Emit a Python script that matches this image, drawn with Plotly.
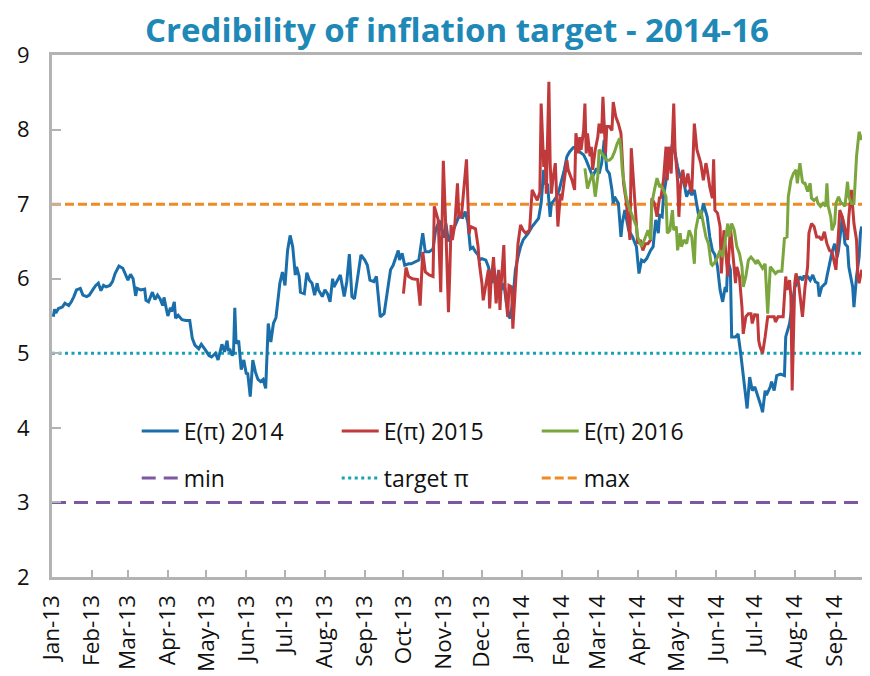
import plotly.graph_objects as go

# ---------------- data ----------------
e2014_dates = [
    "2013-01-02","2013-01-03","2013-01-04","2013-01-06","2013-01-09","2013-01-11","2013-01-14","2013-01-16",
    "2013-01-18","2013-01-20","2013-01-23","2013-01-25","2013-01-28","2013-01-30","2013-02-02","2013-02-04",
    "2013-02-06","2013-02-08","2013-02-10","2013-02-12","2013-02-15","2013-02-17","2013-02-19","2013-02-22",
    "2013-02-25","2013-02-27","2013-03-01","2013-03-03","2013-03-05","2013-03-07","2013-03-08","2013-03-11",
    "2013-03-14","2013-03-15","2013-03-17","2013-03-20","2013-03-22","2013-03-24","2013-03-26","2013-03-28",
    "2013-03-29","2013-03-31","2013-04-01","2013-04-03","2013-04-04","2013-04-06","2013-04-07","2013-04-09",
    "2013-04-12","2013-04-15","2013-04-18","2013-04-20","2013-04-22","2013-04-25","2013-04-27","2013-04-30",
    "2013-05-03","2013-05-05","2013-05-08","2013-05-10","2013-05-12","2013-05-13","2013-05-15","2013-05-17",
    "2013-05-18","2013-05-19","2013-05-21","2013-05-22","2013-05-23","2013-05-24","2013-05-26","2013-05-28",
    "2013-05-30","2013-06-01","2013-06-02","2013-06-04","2013-06-06","2013-06-08","2013-06-10","2013-06-12",
    "2013-06-14","2013-06-15","2013-06-16","2013-06-18","2013-06-20","2013-06-22","2013-06-24","2013-06-27",
    "2013-06-29","2013-07-01","2013-07-03","2013-07-05","2013-07-07","2013-07-09","2013-07-10","2013-07-12",
    "2013-07-13","2013-07-16","2013-07-18","2013-07-20","2013-07-22","2013-07-24","2013-07-26","2013-07-27",
    "2013-07-30","2013-08-01","2013-08-03","2013-08-05","2013-08-07","2013-08-08","2013-08-11","2013-08-13",
    "2013-08-16","2013-08-18","2013-08-20","2013-08-22","2013-08-24","2013-08-27","2013-08-29","2013-09-01",
    "2013-09-03","2013-09-05","2013-09-08","2013-09-10","2013-09-12","2013-09-13","2013-09-16","2013-09-18",
    "2013-09-19","2013-09-21","2013-09-23","2013-09-25","2013-09-27","2013-09-28","2013-09-30","2013-10-02",
    "2013-10-05","2013-10-07","2013-10-10","2013-10-13","2013-10-16","2013-10-18","2013-10-21","2013-10-24",
    "2013-10-26","2013-10-29","2013-11-01","2013-11-03","2013-11-05","2013-11-08","2013-11-11","2013-11-13",
    "2013-11-16","2013-11-18","2013-11-20","2013-11-22","2013-11-24","2013-11-26","2013-11-28","2013-11-29",
    "2013-12-01","2013-12-04","2013-12-06","2013-12-09","2013-12-10","2013-12-12","2013-12-14","2013-12-16",
    "2013-12-18","2013-12-20","2013-12-22","2013-12-23","2013-12-25","2013-12-26","2013-12-27","2013-12-29",
    "2013-12-31","2014-01-02","2014-01-04","2014-01-06","2014-01-09","2014-01-11","2014-01-14","2014-01-16",
    "2014-01-18","2014-01-19","2014-01-21","2014-01-23","2014-01-24","2014-01-26","2014-01-28","2014-01-30",
    "2014-02-01","2014-02-03","2014-02-05","2014-02-07","2014-02-10","2014-02-12","2014-02-15","2014-02-18",
    "2014-02-20","2014-02-23","2014-02-25","2014-02-28","2014-03-02","2014-03-04","2014-03-06","2014-03-08",
    "2014-03-10","2014-03-12","2014-03-13","2014-03-14","2014-03-17","2014-03-19","2014-03-20","2014-03-22",
    "2014-03-24","2014-03-25","2014-03-28","2014-03-31","2014-04-02","2014-04-04","2014-04-06","2014-04-08",
    "2014-04-11","2014-04-13","2014-04-15","2014-04-17","2014-04-18","2014-04-20","2014-04-21","2014-04-24",
    "2014-04-26","2014-04-28","2014-04-30","2014-05-02","2014-05-04","2014-05-07","2014-05-09","2014-05-11",
    "2014-05-13","2014-05-15","2014-05-17","2014-05-18","2014-05-20","2014-05-22","2014-05-25","2014-05-27",
    "2014-05-29","2014-05-31","2014-06-02","2014-06-04","2014-06-06","2014-06-08","2014-06-09","2014-06-10",
    "2014-06-12","2014-06-13","2014-06-16","2014-06-18","2014-06-20","2014-06-22","2014-06-24","2014-06-25",
    "2014-06-27","2014-06-29","2014-07-01","2014-07-02","2014-07-04","2014-07-06","2014-07-07","2014-07-09",
    "2014-07-10","2014-07-13","2014-07-14","2014-07-16","2014-07-18","2014-07-21","2014-07-24","2014-07-25",
    "2014-07-28","2014-07-30","2014-08-01","2014-08-02","2014-08-05","2014-08-07","2014-08-08","2014-08-11",
    "2014-08-13","2014-08-15","2014-08-17","2014-08-19","2014-08-20","2014-08-22","2014-08-25","2014-08-26",
    "2014-08-28","2014-08-30","2014-09-01","2014-09-03","2014-09-04","2014-09-06","2014-09-07","2014-09-09",
    "2014-09-11","2014-09-12","2014-09-15","2014-09-16","2014-09-18","2014-09-20","2014-09-21","2014-09-22",
]
e2014_vals = [
    5.49,5.59,5.54,5.60,5.62,5.67,5.64,5.69,5.76,5.85,5.87,5.78,5.76,5.78,5.86,5.91,
    5.94,5.84,5.91,5.89,5.91,5.96,6.07,6.17,6.14,6.05,5.98,6.06,6.00,5.77,5.87,5.85,
    5.86,5.71,5.69,5.82,5.72,5.78,5.73,5.64,5.75,5.58,5.50,5.61,5.56,5.69,5.47,5.51,
    5.45,5.44,5.44,5.20,5.11,5.06,5.12,5.05,4.97,4.95,5.00,4.91,5.04,5.12,5.02,5.17,
    5.03,5.06,4.97,5.00,5.61,5.13,5.17,4.78,4.91,4.72,4.74,4.42,4.91,4.75,4.65,4.62,
    4.65,4.59,4.53,5.40,5.15,5.40,5.48,5.94,6.09,5.91,6.38,6.58,6.43,6.05,6.16,6.03,
    5.82,5.80,6.08,5.98,5.94,5.78,5.94,5.85,5.76,5.85,5.80,5.69,6.00,5.89,5.98,6.05,
    5.76,5.96,6.33,5.76,5.73,6.11,6.32,6.25,6.18,5.98,5.96,6.03,5.67,5.49,5.53,5.78,
    5.85,6.12,6.18,6.27,6.38,6.25,6.34,6.18,6.20,6.20,6.23,6.25,6.61,6.36,6.36,6.40,
    6.65,6.78,6.55,6.74,6.50,6.63,6.77,6.83,6.82,6.90,6.76,6.40,6.42,6.36,6.32,6.25,
    6.27,6.25,6.16,5.94,6.16,5.98,5.94,5.85,5.94,5.67,5.49,5.47,5.71,5.89,6.12,6.29,
    6.43,6.52,6.56,6.61,6.70,6.74,6.81,7.01,7.46,7.28,7.26,6.83,7.01,7.05,7.10,7.19,
    7.32,7.46,7.64,7.70,7.76,7.77,7.70,7.66,7.59,7.46,7.37,7.48,7.41,7.55,7.86,7.46,
    7.41,7.19,7.01,7.10,7.01,6.56,6.74,6.92,6.74,6.65,6.56,6.43,6.07,6.25,6.23,6.27,
    6.38,6.43,6.79,6.61,6.85,6.83,7.10,7.46,7.64,7.81,7.68,7.50,7.37,7.28,7.10,7.19,
    7.12,7.19,6.97,6.88,6.81,7.01,6.83,6.56,6.38,6.32,6.16,5.85,5.69,5.89,5.82,6.25,
    6.12,5.22,5.22,5.26,5.00,4.68,4.33,4.26,4.68,4.50,4.55,4.50,4.39,4.28,4.21,4.50,
    4.44,4.55,4.62,4.50,4.70,4.72,4.70,5.22,5.40,5.67,5.89,5.91,6.03,5.98,6.03,6.03,
    5.98,6.05,5.96,5.94,5.76,5.89,5.94,6.03,6.20,6.36,6.47,6.29,6.38,6.65,6.83,6.47,
    6.43,6.16,5.89,5.62,6.03,6.29,6.61,6.70,
]

e2015_dates = [
    "2013-10-01","2013-10-03","2013-10-05","2013-10-08","2013-10-12","2013-10-14","2013-10-16","2013-10-18",
    "2013-10-21","2013-10-24","2013-10-25","2013-10-28","2013-10-30","2013-10-31","2013-11-01","2013-11-03",
    "2013-11-05","2013-11-06","2013-11-07","2013-11-08","2013-11-10","2013-11-12","2013-11-13","2013-11-15",
    "2013-11-17","2013-11-19","2013-11-21","2013-11-22","2013-11-26","2013-11-28","2013-11-29","2013-12-01",
    "2013-12-02","2013-12-04","2013-12-06","2013-12-07","2013-12-08","2013-12-10","2013-12-12","2013-12-14",
    "2013-12-15","2013-12-16","2013-12-18","2013-12-19","2013-12-21","2013-12-22","2013-12-24","2013-12-25",
    "2013-12-27","2013-12-29","2013-12-31","2014-01-02","2014-01-04","2014-01-07","2014-01-09","2014-01-11",
    "2014-01-13","2014-01-15","2014-01-16","2014-01-18","2014-01-19","2014-01-20","2014-01-22","2014-01-23",
    "2014-01-24","2014-01-25","2014-01-27","2014-01-29","2014-01-31","2014-02-01","2014-02-03","2014-02-05",
    "2014-02-06","2014-02-09","2014-02-11","2014-02-12","2014-02-14","2014-02-15","2014-02-16","2014-02-18",
    "2014-02-19","2014-02-20","2014-02-21","2014-02-23","2014-02-24","2014-02-25","2014-02-27","2014-03-01",
    "2014-03-02","2014-03-04","2014-03-05","2014-03-07","2014-03-08","2014-03-10","2014-03-12","2014-03-13",
    "2014-03-15","2014-03-17","2014-03-19","2014-03-21","2014-03-23","2014-03-25","2014-03-26","2014-03-27",
    "2014-03-29","2014-03-31","2014-04-01","2014-04-03","2014-04-05","2014-04-07","2014-04-09","2014-04-11",
    "2014-04-12","2014-04-14","2014-04-16","2014-04-18","2014-04-19","2014-04-21","2014-04-23","2014-04-24",
    "2014-04-25","2014-04-27","2014-04-29","2014-04-30","2014-05-02","2014-05-03","2014-05-04","2014-05-06",
    "2014-05-08","2014-05-10","2014-05-12","2014-05-13","2014-05-15","2014-05-17","2014-05-18","2014-05-20",
    "2014-05-22","2014-05-24","2014-05-25","2014-05-27","2014-05-29","2014-05-30","2014-05-31","2014-06-02",
    "2014-06-04","2014-06-05","2014-06-07","2014-06-09","2014-06-10","2014-06-12","2014-06-14","2014-06-16",
    "2014-06-17","2014-06-19","2014-06-21","2014-06-22","2014-06-24","2014-06-26","2014-06-28","2014-06-29",
    "2014-07-01","2014-07-02","2014-07-03","2014-07-04","2014-07-05","2014-07-07","2014-07-09","2014-07-11",
    "2014-07-14","2014-07-16","2014-07-17","2014-07-19","2014-07-21","2014-07-23","2014-07-25","2014-07-26",
    "2014-07-28","2014-07-29","2014-07-30","2014-08-01","2014-08-02","2014-08-04","2014-08-07","2014-08-09",
    "2014-08-11","2014-08-12","2014-08-14","2014-08-16","2014-08-18","2014-08-20","2014-08-22","2014-08-24",
    "2014-08-26","2014-08-28","2014-08-30","2014-08-31","2014-09-02","2014-09-04","2014-09-05","2014-09-07",
    "2014-09-09","2014-09-11","2014-09-12","2014-09-14","2014-09-16","2014-09-18","2014-09-19","2014-09-20",
    "2014-09-22",
]
e2015_vals = [
    5.80,6.15,6.03,6.00,5.99,5.64,6.36,6.09,6.05,6.03,6.97,6.79,5.82,6.65,7.58,6.65,
    5.55,6.07,6.72,6.52,6.74,7.28,6.85,6.83,7.19,7.60,6.60,6.70,6.67,6.43,6.20,5.94,
    5.71,5.89,6.12,5.60,5.94,6.29,5.67,6.12,5.58,5.94,6.45,5.89,5.49,5.91,5.89,5.33,
    5.94,6.47,6.72,6.65,6.61,6.65,7.19,7.12,7.05,7.16,8.35,7.50,7.73,7.14,8.64,7.55,
    7.14,7.32,7.55,6.70,7.14,7.05,7.32,7.59,7.46,7.32,7.19,7.95,7.68,7.90,7.73,7.99,
    8.35,7.68,7.95,7.64,7.77,7.46,7.73,7.90,8.08,7.95,8.44,7.68,8.04,8.04,7.99,8.37,
    8.17,8.08,7.95,7.28,7.05,6.70,6.52,7.75,7.23,6.79,6.47,6.52,6.38,6.47,6.47,6.52,
    7.08,7.01,6.83,7.10,7.08,7.32,7.77,7.32,7.77,7.41,8.35,7.73,7.32,6.83,7.19,7.46,
    7.23,7.41,7.19,7.16,8.08,7.73,7.68,7.55,7.32,7.55,7.46,7.23,7.08,7.60,6.92,6.88,
    6.70,6.07,6.65,6.29,6.03,6.70,6.29,5.94,6.16,6.03,5.62,5.26,5.49,5.53,5.53,5.40,
    5.53,5.49,5.53,5.17,5.09,5.00,5.22,5.49,5.49,5.49,5.42,5.49,5.49,5.49,6.03,5.85,
    5.98,5.76,4.50,5.94,6.07,5.94,5.49,5.89,6.16,6.61,6.74,6.70,6.56,6.56,6.52,6.63,
    6.47,6.38,6.36,6.29,6.12,6.61,6.92,6.83,6.65,6.52,6.83,7.19,6.74,6.52,6.03,5.94,
    6.12,
]

e2016_dates = [
    "2014-02-19","2014-02-21","2014-02-23","2014-02-25","2014-02-27","2014-03-01","2014-03-02","2014-03-04",
    "2014-03-06","2014-03-08","2014-03-10","2014-03-12","2014-03-14","2014-03-16","2014-03-18","2014-03-19",
    "2014-03-20","2014-03-22","2014-03-23","2014-03-25","2014-03-27","2014-03-29","2014-03-31","2014-04-01",
    "2014-04-04","2014-04-05","2014-04-07","2014-04-09","2014-04-11","2014-04-12","2014-04-14","2014-04-16",
    "2014-04-18","2014-04-19","2014-04-21","2014-04-23","2014-04-24","2014-04-26","2014-04-28","2014-04-29",
    "2014-05-01","2014-05-02","2014-05-04","2014-05-05","2014-05-07","2014-05-09","2014-05-11","2014-05-13",
    "2014-05-15","2014-05-16","2014-05-18","2014-05-20","2014-05-22","2014-05-24","2014-05-26","2014-05-28",
    "2014-05-29","2014-05-31","2014-06-02","2014-06-04","2014-06-06","2014-06-08","2014-06-10","2014-06-11",
    "2014-06-13","2014-06-15","2014-06-17","2014-06-19","2014-06-21","2014-06-22","2014-06-24","2014-06-26",
    "2014-06-28","2014-06-30","2014-07-02","2014-07-03","2014-07-05","2014-07-07","2014-07-09","2014-07-11",
    "2014-07-13","2014-07-15","2014-07-17","2014-07-19","2014-07-22","2014-07-24","2014-07-26","2014-07-27",
    "2014-07-29","2014-07-31","2014-08-02","2014-08-03","2014-08-05","2014-08-07","2014-08-08","2014-08-09",
    "2014-08-11","2014-08-13","2014-08-14","2014-08-16","2014-08-18","2014-08-19","2014-08-21","2014-08-23",
    "2014-08-25","2014-08-26","2014-08-27","2014-08-29","2014-08-30","2014-09-01","2014-09-02","2014-09-04",
    "2014-09-06","2014-09-07","2014-09-09","2014-09-11","2014-09-12","2014-09-14","2014-09-16","2014-09-17",
    "2014-09-18","2014-09-20","2014-09-21","2014-09-22",
]
e2016_vals = [
    7.48,7.21,7.32,7.41,7.10,7.37,7.73,7.68,7.64,7.59,7.59,7.62,7.70,7.81,7.88,7.73,
    7.46,7.23,7.10,6.97,6.88,6.79,6.70,6.56,6.43,6.47,6.56,6.65,6.52,7.01,7.19,7.35,
    7.23,7.25,7.19,7.10,6.61,6.65,6.92,6.65,6.70,6.38,6.61,6.43,6.52,6.47,6.65,6.56,
    6.20,6.65,6.83,6.92,6.74,6.56,6.47,6.20,6.18,6.22,6.29,6.38,6.29,6.52,6.74,6.56,
    6.74,6.65,6.43,6.34,6.16,5.89,6.03,6.25,6.29,6.25,6.20,6.25,6.20,6.14,6.20,5.53,
    6.16,6.12,6.07,6.10,6.10,6.54,6.56,7.10,7.32,7.41,7.46,7.28,7.55,7.30,7.28,7.28,
    7.17,7.28,7.08,7.05,7.08,7.01,6.97,7.01,6.97,7.28,6.97,6.83,6.65,6.74,7.01,7.10,
    7.01,7.01,6.97,7.30,7.10,7.01,7.01,7.32,7.64,7.97,7.90,7.86,
]

series_names = ["E(π) 2014", "E(π) 2015", "E(π) 2016"]
ref_names = ["min", "target π", "max"]
ref_levels = [3, 5, 7]
x_range = ["2013-01-01", "2014-09-22 06:00"]
ref_x = ["2013-01-01", "2014-10-31"]
y_ticks = [2, 3, 4, 5, 6, 7, 8, 9]

# ---------------- styling ----------------
series_colors = ["#1A6EAA", "#C03A3B", "#7BA63D"]
ref_colors = ["#7D57A2", "#14A1B6", "#F08A26"]
ref_dashes = ["14px,8px", "3px,3.5px", "9px,4px"]
AXIS_GREY = "#B3B3B3"
FONT = "Open Sans"

fig = go.Figure()
for name, lvl, col, dash in zip(ref_names, ref_levels, ref_colors, ref_dashes):
    fig.add_trace(go.Scatter(x=ref_x, y=[lvl, lvl], mode="lines", name=name,
                             line=dict(color=col, width=3, dash=dash), legend="legend2"))

for name, xs, ys, col in zip(series_names,
                             [e2014_dates, e2015_dates, e2016_dates],
                             [e2014_vals, e2015_vals, e2016_vals],
                             series_colors):
    fig.add_trace(go.Scatter(x=xs, y=ys, mode="lines", name=name,
                             line=dict(color=col, width=3), legend="legend"))

legend_common = dict(orientation="h", xref="paper", yref="paper", x=0.1046, xanchor="left",
                     yanchor="middle", entrywidth=148, itemwidth=37,
                     bgcolor="rgba(0,0,0,0)", font=dict(family=FONT, size=23, color="#111111"),
                     traceorder="normal")

# the page adds an 8px body margin, so the figure is laid out 8px up/left
fig.update_layout(
    width=870, height=676,
    margin=dict(l=44, r=16, t=47, b=107, autoexpand=False),
    paper_bgcolor="white", plot_bgcolor="white",
    title=dict(text="<b>Credibility of inflation target - 2014-16</b>",
               font=dict(family=FONT, size=33, color="#1E88B6"),
               x=0.5, xref="paper", xanchor="center",
               y=1 - 22.5 / 676, yref="container", yanchor="middle"),
    legend=dict(**legend_common, y=0.2797),
    legend2=dict(**legend_common, y=0.1897),
    showlegend=True,
    xaxis=dict(type="date", range=x_range, tickmode="linear", tick0="2013-01-01", dtick="M1",
               tickformat="%b-%y", tickangle=-90, ticks="inside", ticklen=7, tickwidth=1.5,
               tickcolor=AXIS_GREY, showgrid=False, zeroline=False, showline=True,
               linecolor=AXIS_GREY, linewidth=3, mirror=True, automargin=False,
               ticklabelstandoff=6,
               tickfont=dict(family=FONT, size=22.5, color="#111111")),
    yaxis=dict(range=[2, 9], tickmode="array", tickvals=y_ticks, ticks="inside", ticklen=9,
               tickwidth=2, tickcolor=AXIS_GREY, showgrid=False, zeroline=False,
               showline=True, linecolor=AXIS_GREY, linewidth=3, ticklabelstandoff=15,
               automargin=False,
               tickfont=dict(family=FONT, size=22, color="#111111")),
)

fig.write_html("out.html")
